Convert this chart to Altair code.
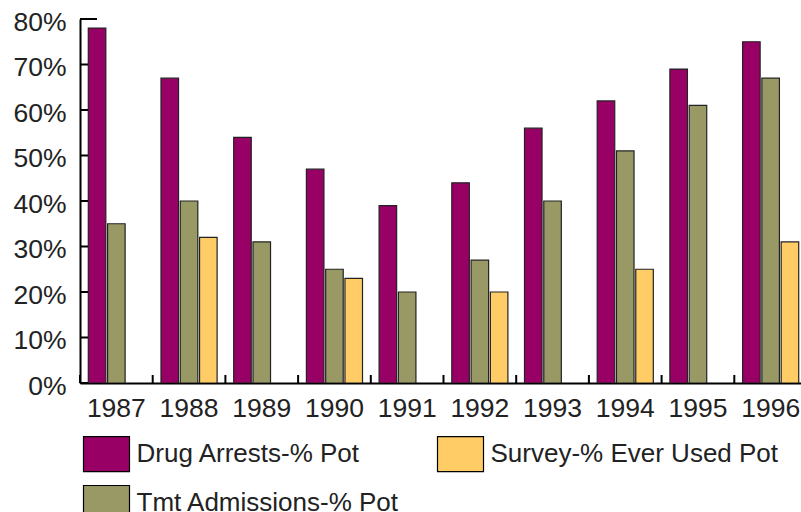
import altair as alt
import pandas as pd

years = ["1987", "1988", "1989", "1990", "1991", "1992", "1993", "1994", "1995", "1996"]
drug_arrests = [78, 67, 54, 47, 39, 44, 56, 62, 69, 75]
tmt_admissions = [35, 40, 31, 25, 20, 27, 40, 51, 61, 67]
survey_ever_used = [None, 32, None, 23, None, 20, None, 25, None, 31]

series_names = ["Drug Arrests-% Pot", "Tmt Admissions-% Pot", "Survey-% Ever Used Pot"]
series_colors = ["#990066", "#999966", "#FFCC66"]
y_ticks = [0, 10, 20, 30, 40, 50, 60, 70, 80]

rows = []
for name, vals in zip(series_names, [drug_arrests, tmt_admissions, survey_ever_used]):
    for y, v in zip(years, vals):
        if v is not None:
            rows.append({"year": y, "series": name, "value": v})
df = pd.DataFrame(rows)
years_df = pd.DataFrame({"year": years})
ticks_df = pd.DataFrame({"v": y_ticks})

FONT = "Liberation Sans"

x_scale = alt.Scale(domain=years, range=[0, 727], paddingInner=0, paddingOuter=0)
y_scale = alt.Scale(domain=[0, 80], nice=False)

bars = alt.Chart(df).mark_bar(stroke="#222222", strokeWidth=1.2, clip=True).encode(
    x=alt.X("year:N", scale=x_scale, sort=years,
            axis=alt.Axis(title=None, labelAngle=0, ticks=False, domainColor="black",
                          domainWidth=2, labelFontSize=26.5, labelFont=FONT,
                          labelColor="#222222", labelPadding=12)),
    xOffset=alt.XOffset("series:N", sort=series_names,
                        scale=alt.Scale(domain=series_names, paddingInner=0.09, paddingOuter=0.43)),
    y=alt.Y("value:Q", scale=y_scale,
            axis=alt.Axis(title=None, values=y_ticks, labelExpr="datum.value + '%'",
                          ticks=False, grid=False, domainColor="black", domainWidth=2,
                          labelFontSize=26.5, labelFont=FONT, labelColor="#222222",
                          labelPadding=14, labelOffset=3)),
    color=alt.Color("series:N",
                    scale=alt.Scale(domain=series_names, range=series_colors),
                    legend=alt.Legend(title=None, orient="none", legendX=2.5, legendY=411,
                                      columns=2, columnPadding=35, rowPadding=5,
                                      symbolType="M-1,-0.76H1V0.76H-1Z", symbolSize=2116,
                                      symbolStrokeColor="black", symbolStrokeWidth=1.2,
                                      symbolOpacity=1,
                                      labelFontSize=26, labelFont=FONT, labelColor="#222222",
                                      labelOffset=6, labelLimit=0)),
)

y_tick_rules = alt.Chart(ticks_df).mark_rule(color="black", strokeWidth=2).encode(
    y=alt.Y("v:Q", scale=y_scale),
    x=alt.value(0),
    x2=alt.value(8),
)

top_rule = alt.Chart(ticks_df).mark_rule(color="black", strokeWidth=2).encode(
    y=alt.datum(80, type="quantitative"),
    x=alt.value(0),
    x2=alt.value(17),
)

x_tick_rules = alt.Chart(years_df).mark_rule(color="black", strokeWidth=2).encode(
    x=alt.X("year:N", scale=x_scale, sort=years, bandPosition=0),
    y=alt.value(356),
    y2=alt.value(364),
)

chart = alt.layer(bars, y_tick_rules, top_rule, x_tick_rules).properties(
    width=721,
    height=364,
    autosize=alt.AutoSizeParams(type="none"),
    padding={"left": 80, "top": 19, "right": 0, "bottom": 129},
    background="white",
).configure_view(stroke=None)

chart.save("out.html", embed_options={"renderer": "svg", "actions": False})
